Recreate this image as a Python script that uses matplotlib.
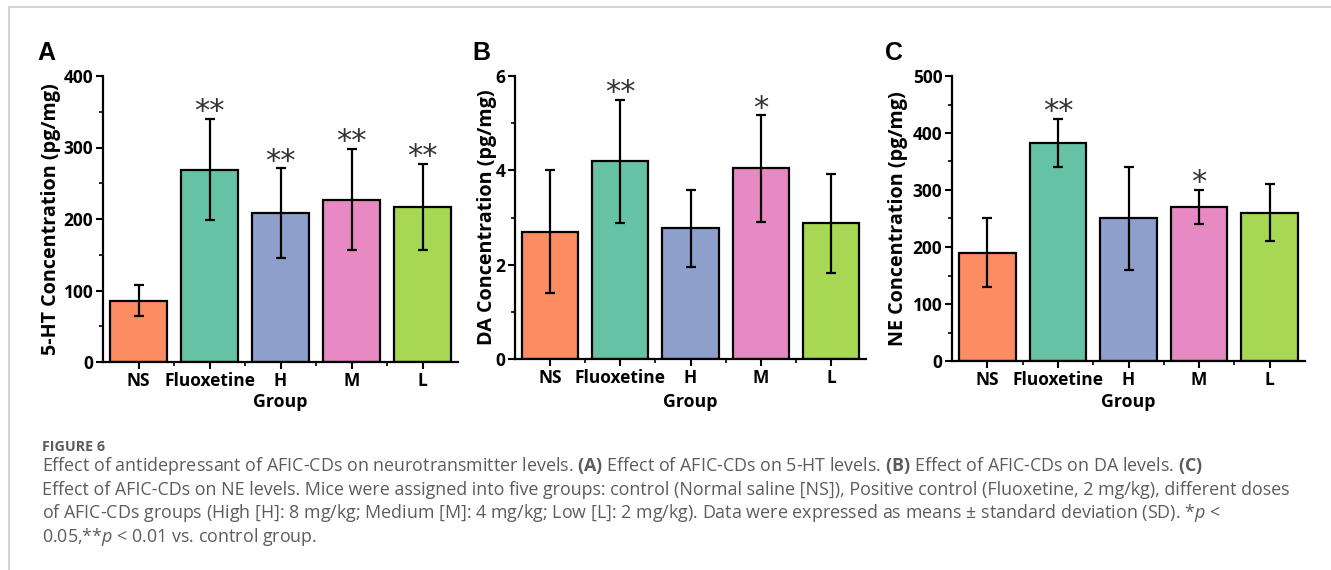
import matplotlib
matplotlib.use("Agg")
import matplotlib.pyplot as plt
from matplotlib.lines import Line2D
from matplotlib.ticker import MultipleLocator, FixedLocator
import numpy as np

# groups and colours
groups = ["NS", "Fluoxetine", "H", "M", "L"]
bar_colors = ["#FC8D62", "#66C2A5", "#8DA0CB", "#E78AC3", "#A6D854"]

# 5-HT (pg/mg)
ht_mean = [86, 269, 208, 227, 217]
ht_sd = [22, 71, 63, 71, 60]
ht_stars = ["", "**", "**", "**", "**"]

# DA (pg/mg)
da_mean = [2.70, 4.19, 2.77, 4.04, 2.88]
da_sd = [1.30, 1.30, 0.82, 1.13, 1.05]
da_stars = ["", "**", "", "*", ""]

# NE (pg/mg)
ne_mean = [190, 383, 250, 270, 260]
ne_sd = [60, 42, 90, 30, 50]
ne_stars = ["", "**", "", "*", ""]

plt.rcParams["font.family"] = ["Open Sans", "DejaVu Sans"]
plt.rcParams["mathtext.fontset"] = "custom"
plt.rcParams["mathtext.rm"] = "Open Sans"
plt.rcParams["mathtext.bf"] = "Open Sans:bold"
plt.rcParams["mathtext.it"] = "Open Sans:italic"

fig = plt.figure(figsize=(13.31, 5.70), dpi=100)

W, H = 1331.0, 570.0


def px_axes(left, top, right, bottom):
    return fig.add_axes([left / W, 1 - bottom / H, (right - left) / W, (bottom - top) / H])


panels = [
    dict(box=(103, 76, 458, 362), mean=ht_mean, sd=ht_sd, stars=ht_stars,
         ymax=400, major=100, minor=50, ylabel="5-HT Concentration (pg/mg)",
         ylab_px=51, letter="A", letter_x=37),
    dict(box=(515, 76, 866, 359), mean=da_mean, sd=da_sd, stars=da_stars,
         ymax=6, major=2, minor=1, ylabel="DA Concentration (pg/mg)",
         ylab_px=487, letter="B", letter_x=472),
    dict(box=(952, 76, 1305, 361), mean=ne_mean, sd=ne_sd, stars=ne_stars,
         ymax=500, major=100, minor=50, ylabel="NE Concentration (pg/mg)",
         ylab_px=898, letter="C", letter_x=885),
]

x = np.arange(1, len(groups) + 1)

for p in panels:
    left, top, right, bottom = p["box"]
    ax = px_axes(*p["box"])
    ax.bar(x, p["mean"], width=0.8, color=bar_colors, edgecolor="black",
           linewidth=1.6, zorder=2)
    ax.errorbar(x, p["mean"], yerr=p["sd"], fmt="none", ecolor="black",
                elinewidth=1.6, capsize=3.5, capthick=1.6, zorder=3)
    for xi, m, s, st in zip(x, p["mean"], p["sd"], p["stars"]):
        if st:
            ax.annotate(st, (xi, m + s), xytext=(0, -1), textcoords="offset points",
                        ha="center", va="baseline", fontsize=22, color="#333333",
                        family="DejaVu Sans")
    ax.set_xlim(0.5, 5.5)
    ax.set_ylim(0, p["ymax"])
    ax.set_xticks(x)
    ax.set_xticklabels(groups)
    ax.xaxis.set_minor_locator(FixedLocator(x[:-1] + 0.5))
    ax.yaxis.set_major_locator(MultipleLocator(p["major"]))
    ax.yaxis.set_minor_locator(MultipleLocator(p["minor"]))
    for s in ["top", "right"]:
        ax.spines[s].set_visible(False)
    for s in ["left", "bottom"]:
        ax.spines[s].set_linewidth(1.6)
    ax.tick_params(which="major", direction="out", length=5, width=1.5,
                   labelsize=12.5, pad=2)
    ax.tick_params(which="minor", direction="out", length=3, width=1.2)
    for lab in ax.get_xticklabels() + ax.get_yticklabels():
        lab.set_fontweight("bold")
    ax.set_ylabel(p["ylabel"], fontsize=14.2, fontweight="bold", va="center")
    ax.yaxis.set_label_coords((p["ylab_px"] - left) / (right - left), 0.5)
    ax.set_xlabel("Group", fontsize=12.8, fontweight="bold", va="center")
    ax.xaxis.set_label_coords(0.5, (bottom - 402) / (bottom - top))
    fig.text(p["letter_x"] / W, 1 - 60 / H, p["letter"], fontsize=18,
             fontweight="bold", family="Liberation Sans", ha="left", va="baseline")

# page frame lines
fig.add_artist(Line2D([9 / W, 1], [1 - 7 / H, 1 - 7 / H], color="#d4d4d4", lw=1.5))
fig.add_artist(Line2D([9 / W, 9 / W], [0, 1 - 7 / H], color="#d4d4d4", lw=1.5))

# caption
cap_color = "#5c5c5c"
fig.text(42 / W, 1 - 447 / H, "FIGURE 6", fontsize=10.3, fontweight="bold",
         color=cap_color, ha="left", va="center")
caption_lines = [
    r"Effect of antidepressant of AFIC-CDs on neurotransmitter levels. $\mathbf{(A)}$ Effect of AFIC-CDs on 5-HT levels. $\mathbf{(B)}$ Effect of AFIC-CDs on DA levels. $\mathbf{(C)}$",
    "Effect of AFIC-CDs on NE levels. Mice were assigned into five groups: control (Normal saline [NS]), Positive control (Fluoxetine, 2 mg/kg), different doses",
    r"of AFIC-CDs groups (High [H]: 8 mg/kg; Medium [M]: 4 mg/kg; Low [L]: 2 mg/kg). Data were expressed as means ± standard deviation (SD). *$\mathit{p}$ <",
    r"0.05,**$\mathit{p}$ < 0.01 vs. control group.",
]
for i, line in enumerate(caption_lines):
    fig.text(42 / W, 1 - (466 + 23.6 * i) / H, line, fontsize=12.9,
             color=cap_color, ha="left", va="center")

fig.savefig("out.png", dpi=100)
